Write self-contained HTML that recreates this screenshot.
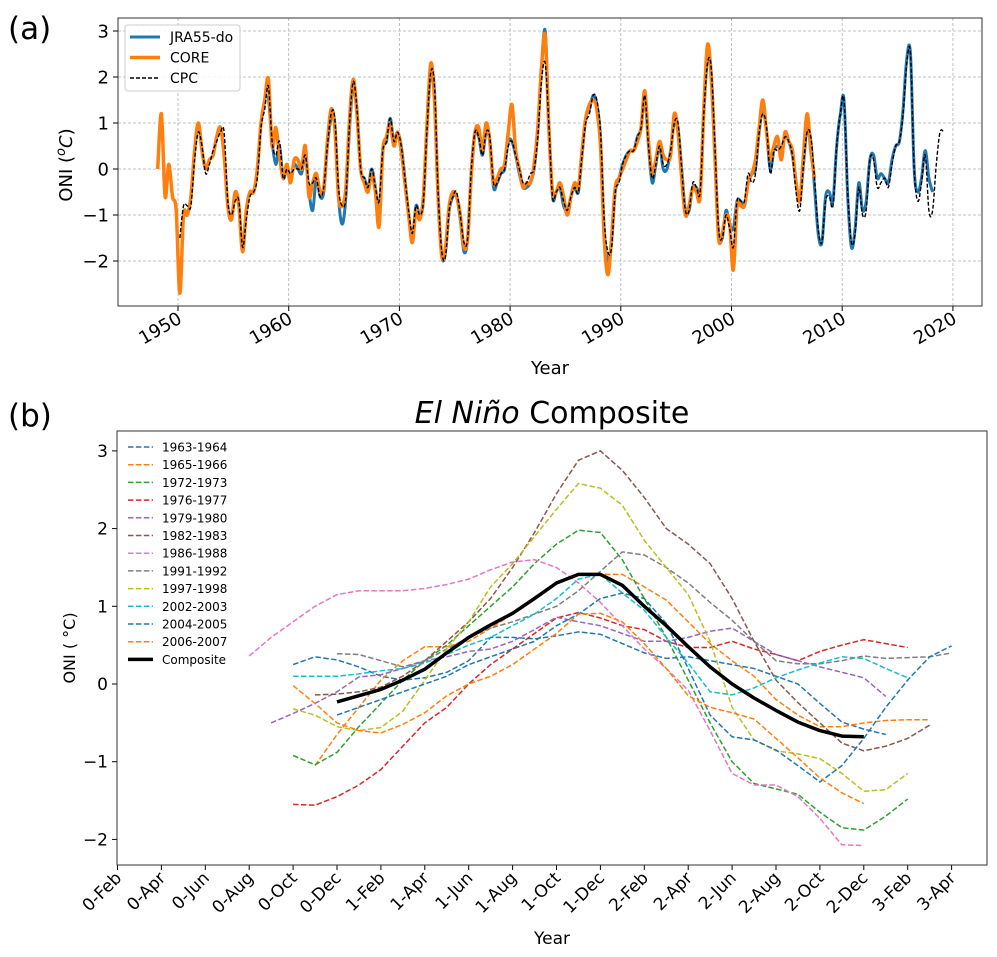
<!DOCTYPE html>
<html><head><meta charset="utf-8"><style>
body{margin:0;background:#fff}
svg text{font-family:"DejaVu Sans","Liberation Sans",sans-serif;fill:#000}
</style></head><body>
<svg id="fig" width="997" height="952" viewBox="0 0 997 952" xmlns="http://www.w3.org/2000/svg">
<rect width="997" height="952" fill="#fff"/>
<text x="8" y="39" font-size="31">(a)</text>
<text x="8" y="426" font-size="31">(b)</text>
<g id="pa"></g>
<g id="pb"></g>
</svg>
<script>
// ---------- Panel (a) data (3 samples per year) ----------
const cpcStart = 1950;
const cpcVals = [-1.5,-0.8,-0.8, -0.8,0.2,0.8, 0.5,-0.1,0.1, 0.4,0.6,0.8, 0.8,-0.7,-1.0, -0.7,-0.7,-1.7, -1.1,-0.6,-0.5, -0.2,0.9,1.3, 1.8,0.6,0.3, 0.6,-0.2,0.0,
 -0.1,0.0,0.0, 0.0,0.3,-0.3, -0.3,-0.2,-0.6, -0.4,0.5,1.2, 1.1,-0.4,-0.8, -0.6,1.0,1.9, 1.3,0.0,-0.2, -0.4,0.0,-0.4, -0.7,0.4,0.6, 1.1,0.6,0.8,
 0.5,-0.2,-0.9, -1.4,-0.8,-1.0, -0.7,0.9,2.1, 1.8,-0.5,-1.8, -1.9,-0.9,-0.6, -0.5,-1.0,-1.6, -1.5,0.0,0.8, 0.7,0.3,0.8, 0.7,-0.3,-0.3, -0.1,0.0,0.5,
 0.6,0.3,0.0, -0.3,-0.3,-0.1, 0.0,0.7,1.9, 2.3,1.0,-0.6, -0.5,-0.4,-0.7, -0.9,-0.6,-0.4, -0.5,0.3,1.0, 1.2,1.6,1.5, 0.8,-1.1,-1.8, -1.7,-0.5,-0.3,
 0.1,0.3,0.4, 0.4,0.7,0.9, 1.6,0.5,-0.2, 0.1,0.5,0.1, 0.1,0.4,1.0, 1.0,0.0,-0.9, -0.9,-0.3,-0.4, -0.5,1.2,2.3, 2.2,0.5,-1.3, -1.5,-1.0,-1.3,
 -1.7,-0.7,-0.7, -0.7,-0.1,-0.3, -0.1,0.8,1.2, 0.9,-0.1,0.4, 0.4,0.5,0.7, 0.6,0.3,-0.5, -0.9,0.1,0.8, 0.7,-0.2,-1.3, -1.6,-0.7,-0.6, -0.8,0.5,1.2,
 1.5,-0.5,-1.6, -1.4,-0.4,-1.0, -0.9,0.2,0.2, -0.4,-0.3,-0.2, -0.4,0.1,0.5, 0.6,1.2,2.3, 2.5,0.0,-0.7, -0.3,0.3,-0.9, -0.9,0.1,0.8, 0.8];
const coreStart = 1948;
const coreVals = [0.0,1.2,-0.6, 0.1,-0.6,-0.9, -2.7,-1.0,-1.0, -0.6,0.4,1.0, 0.4,0.0,0.2, 0.3,0.7,0.9, 0.3,-0.8,-1.1, -0.5,-0.8,-1.8, -0.9,-0.5,-0.5, 0.0,1.0,1.5,
 1.95,0.5,0.9, 0.3,-0.2,0.1, -0.3,0.2,0.2, 0.0,0.5,-0.6, -0.3,-0.1,-0.5, -0.4,0.6,1.3, 0.9,-0.6,-0.8, -0.4,1.1,1.95, 1.2,0.0,-0.3, -0.5,-0.1,-0.5,
 -1.25,0.4,0.7, 1.0,0.5,0.8, 0.4,-0.3,-1.0, -1.6,-0.9,-1.1, -0.6,1.0,2.3, 1.5,-0.6,-1.9, -1.7,-0.8,-0.5, -0.6,-1.0,-1.7, -1.5,-0.1,0.8, 0.9,0.4,1.0,
 0.6,-0.3,-0.2, 0.0,0.1,0.8, 1.4,0.4,0.0, -0.4,-0.3,-0.3, 0.1,0.9,2.2, 2.9,0.9,-0.5, -0.5,-0.3,-0.6, -1.0,-0.6,-0.3, -0.4,0.4,1.1, 1.4,1.5,1.3,
 0.5,-1.5,-2.3, -1.5,-0.4,-0.2, 0.0,0.2,0.4, 0.4,0.6,0.9, 1.7,0.6,-0.1, 0.2,0.6,0.3, 0.2,0.3,1.2, 0.8,-0.2,-1.0, -0.8,-0.4,-0.5, -0.6,1.3,2.7,
 2.0,0.3,-1.5, -1.4,-1.0,-1.2, -2.2,-0.8,-0.8, -0.8,-0.3,-0.1, 0.2,0.9,1.5, 0.8,0.2,0.5, 0.7,0.2,0.8, 0.6,0.4,-0.3, -0.7,0.3,1.2, 0.4,-0.2];
const jraStart = 1958;
const jraVals = [1.6,0.6,0.1, 0.5,-0.2,0.0, -0.2,0.1,0.0, -0.1,0.3,-0.5, -0.9,-0.2,-0.6, -0.5,0.5,1.1, 1.0,-0.6,-1.2, -0.6,0.9,1.8, 1.3,0.0,-0.2, -0.4,0.0,-0.4,
 -0.9,0.4,0.6, 1.1,0.6,0.8, 0.5,-0.2,-1.0, -1.5,-0.8,-1.0, -0.7,0.9,2.1, 1.7,-0.6,-1.9, -1.8,-0.9,-0.6, -0.6,-1.1,-1.8, -1.5,0.0,0.8, 0.7,0.3,0.8,
 0.6,-0.4,-0.3, -0.1,0.0,0.6, 0.6,0.3,-0.1, -0.4,-0.4,-0.3, 0.0,0.8,2.2, 3.0,1.0,-0.6, -0.5,-0.4,-0.8, -0.9,-0.6,-0.4, -0.5,0.3,1.1, 1.3,1.6,1.4,
 0.7,-1.3,-2.0, -1.6,-0.5,-0.2, 0.1,0.3,0.4, 0.4,0.7,0.9, 1.6,0.5,-0.3, 0.1,0.5,0.0, 0.0,0.4,1.0, 0.9,0.0,-0.9, -0.9,-0.4,-0.4, -0.5,1.2,2.4,
 2.1,0.4,-1.4, -1.5,-0.9,-1.2, -1.3,-0.7,-0.7, -0.8,-0.3,-0.1, 0.0,0.8,1.3, 0.8,0.0,0.4, 0.5,0.4,0.7, 0.6,0.3,-0.3, -0.7,0.1,0.9, 0.6,-0.4,-1.4,
 -1.6,-0.6,-0.5, -0.7,0.5,1.2, 1.5,-0.6,-1.7, -1.3,-0.3,-0.9, -0.7,0.2,0.3, -0.2,-0.1,-0.2, -0.3,0.2,0.5, 0.6,1.3,2.4, 2.5,0.0,-0.5, -0.2,0.4,-0.2, -0.5];
const yearTicks = [1950,1960,1970,1980,1990,2000,2010,2020];
const aYTicks = [-2,-1,0,1,2,3];

// ---------- Panel (b) data (month index: 0 = 0-Feb) ----------
const monthLabels = ["0-Feb","0-Apr","0-Jun","0-Aug","0-Oct","0-Dec","1-Feb","1-Apr","1-Jun","1-Aug","1-Oct","1-Dec","2-Feb","2-Apr","2-Jun","2-Aug","2-Oct","2-Dec","3-Feb","3-Apr"];
const bYTicks = [-2,-1,0,1,2,3];
const eventNames = ["1963-1964","1965-1966","1972-1973","1976-1977","1979-1980","1982-1983","1986-1988","1991-1992","1997-1998","2002-2003","2004-2005","2006-2007"];
const eventColors = ["#1f77b4","#ff7f0e","#2ca02c","#d62728","#9467bd","#8c564b","#e377c2","#7f7f7f","#bcbd22","#17becf","#1f77b4","#ff7f0e"];
const eventStart = [8,9,8,8,7,9,6,10,8,8,10,8];
const ev1963 = [0.25,0.35,0.31,0.22,0.1,0.05,0.08,0.15,0.3,0.6,0.6,0.58,0.62,0.67,0.64,0.52,0.4,0.33,0.35,0.3,0.25,0.2,0.1,0.0,-0.25,-0.49,-0.58,-0.65];
const ev1965 = [-1.05,-0.65,-0.3,0.05,0.3,0.48,0.48,0.55,0.72,0.9,1.1,1.3,1.41,1.41,1.41,1.25,1.08,0.8,0.52,0.3,0.1,-0.2,-0.4,-0.55,-0.55,-0.5,-0.47,-0.46,-0.46];
const ev1972 = [-0.92,-1.04,-0.88,-0.55,-0.25,0.05,0.3,0.5,0.75,1.0,1.25,1.55,1.8,1.98,1.95,1.6,1.1,0.6,0.05,-0.5,-1.0,-1.28,-1.35,-1.42,-1.65,-1.85,-1.88,-1.7,-1.48];
const ev1976 = [-1.55,-1.56,-1.45,-1.3,-1.1,-0.8,-0.5,-0.3,0.0,0.25,0.45,0.65,0.85,0.92,0.85,0.75,0.7,0.55,0.47,0.47,0.55,0.45,0.38,0.3,0.42,0.5,0.57,0.52,0.47];
const ev1979 = [-0.5,-0.38,-0.25,-0.1,0.09,0.12,0.2,0.3,0.35,0.42,0.45,0.55,0.7,0.86,0.8,0.75,0.65,0.55,0.55,0.6,0.68,0.72,0.55,0.38,0.3,0.22,0.15,0.08,-0.16];
const ev1982 = [-0.14,-0.13,-0.1,-0.04,0.1,0.3,0.55,0.8,1.1,1.5,1.95,2.45,2.88,3.0,2.75,2.4,2.0,1.8,1.55,1.1,0.55,0.05,-0.24,-0.5,-0.76,-0.86,-0.8,-0.7,-0.53];
const ev1986 = [0.36,0.6,0.8,1.0,1.15,1.2,1.2,1.2,1.23,1.28,1.35,1.47,1.57,1.6,1.5,1.3,1.05,0.75,0.45,0.2,-0.08,-0.6,-1.15,-1.3,-1.3,-1.45,-1.73,-2.07,-2.08];
const ev1991 = [0.39,0.38,0.3,0.22,0.3,0.45,0.6,0.72,0.8,0.9,1.0,1.2,1.45,1.7,1.66,1.5,1.3,1.05,0.82,0.55,0.3,0.26,0.26,0.3,0.36,0.33,0.34,0.35,0.4];
const ev1997 = [-0.32,-0.4,-0.55,-0.6,-0.56,-0.35,0.05,0.45,0.8,1.25,1.55,1.9,2.25,2.58,2.52,2.3,1.85,1.5,1.15,0.55,-0.3,-0.72,-0.86,-0.9,-0.96,-1.15,-1.38,-1.36,-1.15];
const ev2002 = [0.1,0.1,0.1,0.13,0.17,0.2,0.27,0.38,0.5,0.6,0.75,0.9,1.1,1.35,1.41,1.17,0.95,0.6,0.27,-0.1,-0.14,-0.05,0.08,0.18,0.27,0.35,0.33,0.2,0.08];
const ev2004 = [-0.4,-0.3,-0.2,-0.1,0.0,0.1,0.25,0.35,0.45,0.55,0.75,0.9,1.1,1.17,1.1,0.78,0.2,-0.4,-0.68,-0.72,-0.85,-1.05,-1.26,-1.05,-0.7,-0.3,0.05,0.35,0.49];
const ev2006 = [-0.02,-0.25,-0.5,-0.6,-0.63,-0.52,-0.37,-0.15,0.0,0.1,0.25,0.45,0.65,0.9,0.91,0.8,0.52,0.2,-0.15,-0.3,-0.37,-0.45,-0.7,-0.95,-1.21,-1.4,-1.54];
const compStart = 10;
const compVals = [-0.23,-0.15,-0.07,0.05,0.19,0.4,0.6,0.76,0.91,1.1,1.3,1.41,1.41,1.27,1.0,0.75,0.48,0.22,0.0,-0.18,-0.34,-0.49,-0.6,-0.67,-0.68];
const eventVals = [ev1963,ev1965,ev1972,ev1976,ev1979,ev1982,ev1986,ev1991,ev1997,ev2002,ev2004,ev2006];

const NS="http://www.w3.org/2000/svg";
function mk(tag, attrs, parent){const e=document.createElementNS(NS,tag);for(const k in attrs)e.setAttribute(k,attrs[k]);parent.appendChild(e);return e;}
function smooth(pts){
  if(pts.length<2)return "";
  let d="M"+pts[0][0].toFixed(1)+","+pts[0][1].toFixed(1);
  for(let i=0;i<pts.length-1;i++){
    const p0=pts[i-1]||pts[i],p1=pts[i],p2=pts[i+1],p3=pts[i+2]||p2;
    const c1x=p1[0]+(p2[0]-p0[0])/6,c1y=p1[1]+(p2[1]-p0[1])/6,c2x=p2[0]-(p3[0]-p1[0])/6,c2y=p2[1]-(p3[1]-p1[1])/6;
    d+="C"+c1x.toFixed(1)+","+c1y.toFixed(1)+" "+c2x.toFixed(1)+","+c2y.toFixed(1)+" "+p2[0].toFixed(1)+","+p2[1].toFixed(1);
  }
  return d;
}
function poly(pts){return pts.map((p,i)=>(i?"L":"M")+p[0].toFixed(1)+","+p[1].toFixed(1)).join("");}

// ===== Panel A =====
const pa=document.getElementById("pa");
const aL=118,aR=982,aT=18,aB=306;
const ax=yr=>178+(yr-1950)*11.07;
const ay=v=>169-v*46;
for(const t of yearTicks){
  const g=mk("line",{x1:ax(t),x2:ax(t),y1:aT,y2:aB,stroke:"#b0b0b0","stroke-width":0.8,"stroke-dasharray":"3,2"},pa);
  
  
  const tk=mk("line",{x1:ax(t),x2:ax(t),y1:aB,y2:aB+5,stroke:"#000","stroke-width":1},pa);
  
  
  const tx=mk("text",{"font-size":18,"text-anchor":"end",transform:"translate("+(ax(t)+5)+","+(aB+16)+") rotate(-30)"},pa);
  tx.textContent=t;
  
  
}
for(const t of aYTicks){
  const g=mk("line",{x1:aL,x2:aR,y1:ay(t),y2:ay(t),stroke:"#b0b0b0","stroke-width":0.8,"stroke-dasharray":"3,2"},pa);
  
  
  const tk=mk("line",{x1:aL-5,x2:aL,y1:ay(t),y2:ay(t),stroke:"#000"},pa);
  
  
  const tx=mk("text",{x:aL-9,y:ay(t)+6.5,"font-size":18,"text-anchor":"end"},pa);
  tx.textContent=(t<0?"\u2212":"")+Math.abs(t);
  
  
}
function series(start,vals){return vals.map((v,i)=>[ax(start+i/3+1/6),ay(v)]);}
const jl=mk("path",{d:smooth(series(jraStart,jraVals)),fill:"none",stroke:"#1f77b4","stroke-width":3,"stroke-linejoin":"round"},pa);


const cl=mk("path",{d:smooth(series(coreStart,coreVals)),fill:"none",stroke:"#ff7f0e","stroke-width":3.5,"stroke-linejoin":"round"},pa);


const pl=mk("path",{d:smooth(series(cpcStart,cpcVals)),fill:"none",stroke:"#000","stroke-width":1.4,"stroke-dasharray":"4,2"},pa);


const fa=mk("rect",{x:aL,y:aT,width:aR-aL,height:aB-aT,fill:"none",stroke:"#333","stroke-width":1},pa);


// legend a
const lg=mk("g",{},pa);


mk("rect",{x:125,y:25,width:115,height:66,rx:3,fill:"#fff","fill-opacity":0.85,stroke:"#ccc"},lg);
const la=[["JRA55-do","#1f77b4",3,""],["CORE","#ff7f0e",3.5,""],["CPC","#000",1.4,"4,2"]];
la.forEach((e,i)=>{
  const yy=37+i*20.5;
  const ln=mk("line",{x1:130,x2:160,y1:yy,y2:yy,stroke:e[1],"stroke-width":e[2],"stroke-dasharray":e[3]},lg);
  
  
  const t=mk("text",{x:170,y:yy+5,"font-size":14},lg);
  t.textContent=e[0];
  
  
});
const yla=mk("text",{"font-size":18,"text-anchor":"middle",transform:"translate(72,165) rotate(-90)"},pa);
yla.innerHTML='ONI (<tspan font-style="italic" font-size="13" dy="-7">o</tspan><tspan font-style="italic" dy="7">C</tspan>)';


const xla=mk("text",{x:550,y:374,"font-size":18,"text-anchor":"middle"},pa);
xla.textContent="Year";



// ===== Panel B =====
const pb=document.getElementById("pb");
const bL=117,bR=987,bT=431,bB=865;
const bx=m=>117.5+m*21.95;
const by=v=>684-v*77.7;
monthLabels.forEach((lab,i)=>{
  const m=i*2;
  const tk=mk("line",{x1:bx(m),x2:bx(m),y1:bB,y2:bB+5,stroke:"#000"},pb);
  
  
  const tx=mk("text",{"font-size":17,"text-anchor":"end",transform:"translate("+(bx(m)+5)+","+(bB+14)+") rotate(-45)"},pb);
  tx.textContent=lab;
  
  
});
for(const t of bYTicks){
  const tk=mk("line",{x1:bL-5,x2:bL,y1:by(t),y2:by(t),stroke:"#000"},pb);
  
  
  const tx=mk("text",{x:bL-9,y:by(t)+6,"font-size":17,"text-anchor":"end"},pb);
  tx.textContent=(t<0?"\u2212":"")+Math.abs(t);
  
  
}
eventVals.forEach((vals,k)=>{
  const pts=vals.map((v,i)=>[bx(eventStart[k]+i),by(v)]);
  const p=mk("path",{d:poly(pts),fill:"none",stroke:eventColors[k],"stroke-width":1.5,"stroke-dasharray":"5.5,2.4"},pb);
  
  
});
const cp=mk("path",{d:poly(compVals.map((v,i)=>[bx(compStart+i),by(v)])),fill:"none",stroke:"#000","stroke-width":3.5,"stroke-linejoin":"round"},pb);


const fb=mk("rect",{x:bL,y:bT,width:bR-bL,height:bB-bT,fill:"none",stroke:"#333","stroke-width":1},pb);


// legend b
const lb=mk("g",{},pb);


const names=eventNames.concat(["Composite"]);
names.forEach((n,i)=>{
  const yy=447+i*17.7;
  const comp=i===12;
  const ln=mk("line",{x1:128,x2:153,y1:yy,y2:yy,stroke:comp?"#000":eventColors[i],"stroke-width":comp?3.5:1.5,"stroke-dasharray":comp?"":"5.5,2.4"},lb);
  
  
  const t=mk("text",{x:162,y:yy+4.5,"font-size":12},lb);
  t.textContent=n;
  
  
});
const ti=mk("text",{x:552,y:423,"font-size":30,"text-anchor":"middle"},pb);
ti.innerHTML='<tspan font-style="italic">El Niño</tspan> Composite';


const ylb=mk("text",{"font-size":16,"text-anchor":"middle",transform:"translate(75,648) rotate(-90)"},pb);
ylb.textContent="ONI ( \u00b0C)";


const xlb=mk("text",{x:552,y:944,"font-size":17,"text-anchor":"middle"},pb);
xlb.textContent="Year";


</script>
</body></html>
